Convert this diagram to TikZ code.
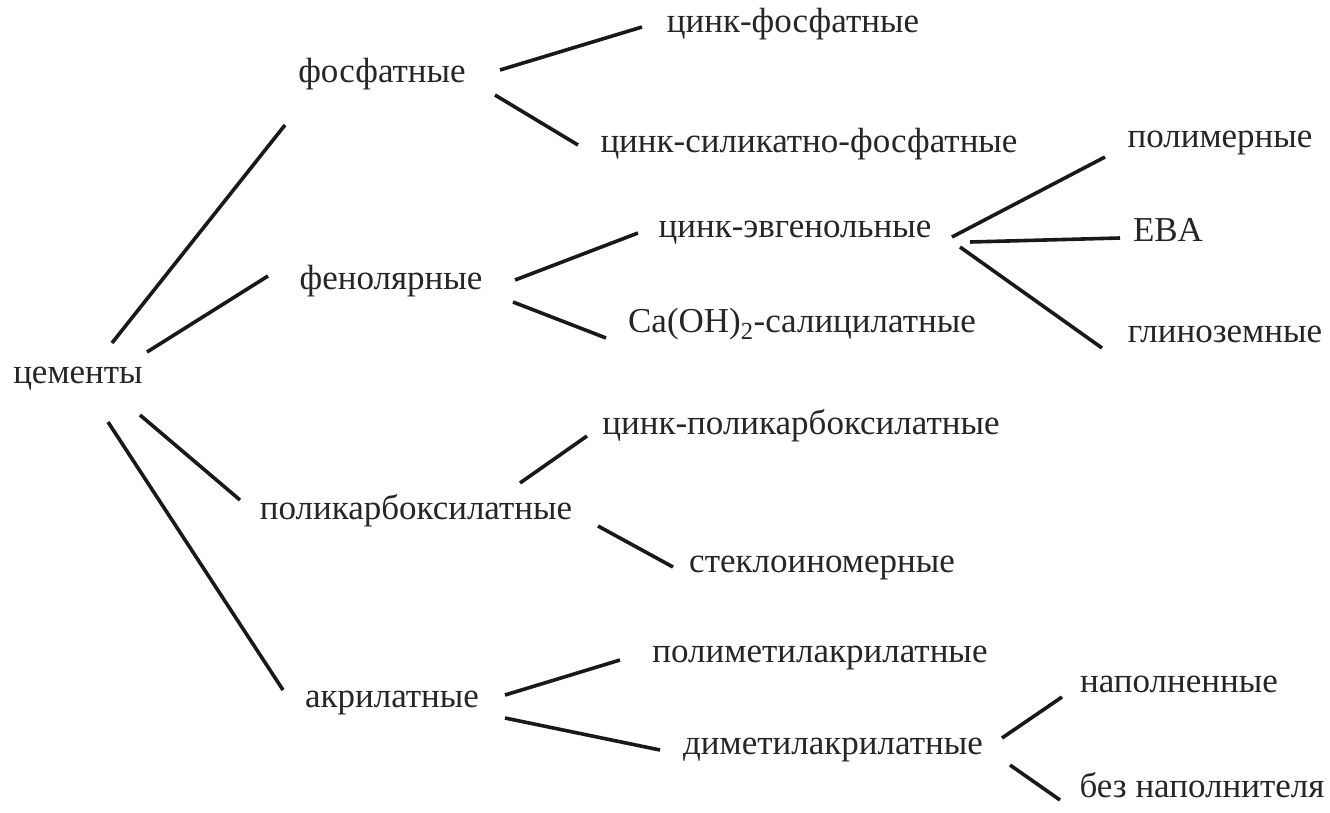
\documentclass[tikz,border=0pt]{standalone}
\usepackage{fontspec}
\setmainfont[Script=Cyrillic,Ligatures=TeX]{Liberation Serif}
\usetikzlibrary{calc}
\begin{document}
\begin{tikzpicture}[x=1pt,y=-1pt,
  lbl/.style={inner sep=0pt,text height=0.7em,text depth=0.25em,font=\fontsize{35}{40}\selectfont,text=black!85},
  conn/.style={line width=3.6pt,black!90}]
\useasboundingbox[fill=white] (0,0) rectangle (1330,812);
\node[lbl] (c) at (78,381) {цементы};
\node[lbl] (f) at (382,80) {фосфатные};
\node[lbl] (ph) at (391,287) {фенолярные};
\node[lbl] (p) at (416,517) {поликарбоксилатные};
\node[lbl] (a) at (392,705) {акрилатные};
\node[lbl] (zf) at (793,30) {цинк-фосфатные};
\node[lbl] (zsf) at (809,150) {цинк-силикатно-фосфатные};
\node[lbl] (ze) at (795,235) {цинк-эвгенольные};
\node[lbl] (ca) at (802,330) {Ca(OH)\textsubscript{2}-салицилатные};
\node[lbl] (zp) at (801,432) {цинк-поликарбоксилатные};
\node[lbl] (st) at (822,570) {стеклоиномерные};
\node[lbl] (pma) at (820,660) {полиметилакрилатные};
\node[lbl] (dma) at (833,752) {диметилакрилатные};
\node[lbl] (pm) at (1220,145) {полимерные};
\node[lbl] (eba) at (1168,239) {EBA};
\node[lbl] (gl) at (1225,340) {глиноземные};
\node[lbl] (nap) at (1179,690) {наполненные};
\node[lbl] (bez) at (1202,795) {без наполнителя};

\draw[conn] ($(c)+(34,-38)$) -- ($(f)+(-97,45)$);
\draw[conn] ($(c)+(69,-29)$) -- ($(ph)+(-123,-11)$);
\draw[conn] ($(c)+(62,34)$) -- ($(p)+(-176,-17)$);
\draw[conn] ($(c)+(30,41)$) -- ($(a)+(-109,-15)$);
\draw[conn] ($(f)+(118,-10)$) -- ($(zf)+(-151,-3)$);
\draw[conn] ($(f)+(113,15)$) -- ($(zsf)+(-231,-5)$);
\draw[conn] ($(ph)+(124,-7)$) -- ($(ze)+(-157,-2)$);
\draw[conn] ($(ph)+(122,15)$) -- ($(ca)+(-196,8)$);
\draw[conn] ($(ze)+(157,2)$) -- ($(pm)+(-115,12)$);
\draw[conn] ($(ze)+(175,7)$) -- ($(eba)+(-48,-1)$);
\draw[conn] ($(ze)+(165,12)$) -- ($(gl)+(-123,8)$);
\draw[conn] ($(p)+(104,-34)$) -- ($(zp)+(-214,4)$);
\draw[conn] ($(p)+(182,9)$) -- ($(st)+(-149,-3)$);
\draw[conn] ($(a)+(113,-10)$) -- ($(pma)+(-200,0)$);
\draw[conn] ($(a)+(113,13)$) -- ($(dma)+(-173,-2)$);
\draw[conn] ($(dma)+(169,-14)$) -- ($(nap)+(-117,7)$);
\draw[conn] ($(dma)+(177,13)$) -- ($(bez)+(-142,5)$);
\end{tikzpicture}
\end{document}
